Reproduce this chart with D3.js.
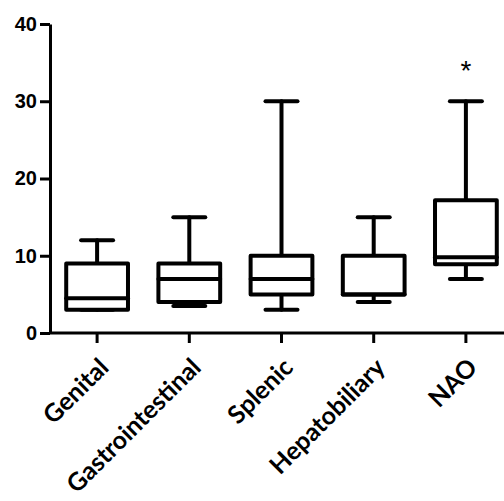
<!DOCTYPE html>
<html>
<head>
<meta charset="utf-8">
<script src="https://cdn.jsdelivr.net/npm/d3@7"></script>
<style>
  body { margin: 0; background: #fff; }
  svg { display: block; }
  .axis path, .axis line { stroke: #000; stroke-width: 3; }
  .axis text { font-family: "Liberation Sans", Arial, sans-serif; font-weight: bold; font-size: 20px; fill: #000; }
  .xaxis text { font-family: Lato, sans-serif; font-size: 25px; }
</style>
</head>
<body>
<svg id="chart" width="504" height="501"></svg>
<script>
// box plot values
const categories = ['Genital', 'Gastrointestinal', 'Splenic', 'Hepatobiliary', 'NAO'];
const mins    = [3,   3.5, 3,  4,  7];
const q1s     = [3,   4,   5,  5,  8.9];
const medians = [4.5, 7,   7,  5,  9.8];
const q3s     = [9,   9,   10, 10, 17.2];
const maxs    = [12,  15,  30, 15, 30];
const yTicks  = [0, 10, 20, 30, 40];
const starred = ['NAO'];

const boxes = categories.map((c, i) => ({
  name: c, min: mins[i], q1: q1s[i], med: medians[i], q3: q3s[i], max: maxs[i]
}));

const svg = d3.select("#chart");

const x = d3.scaleBand()
    .domain(categories)
    .range([51, 512])
    .paddingInner(0.33)
    .paddingOuter(0.165);

const y = d3.scaleLinear()
    .domain([0, 40])
    .range([333, 24]);

// y axis
svg.append("g")
    .attr("class", "axis")
    .attr("transform", "translate(50,0)")
    .call(d3.axisLeft(y).tickValues(yTicks).tickSize(10).tickSizeOuter(0).tickPadding(3));

// x axis
const xAxis = svg.append("g")
    .attr("class", "axis xaxis")
    .attr("transform", "translate(0,333)")
    .call(d3.axisBottom(x).tickSize(10).tickSizeOuter(0));

// rotated category labels
xAxis.selectAll("text")
    .attr("text-anchor", "end")
    .attr("dy", null)
    .attr("x", 0)
    .attr("y", 0)
    .attr("transform", "translate(13,36) rotate(-45)");

xAxis.select(".domain").attr("d", "M50,0H504");

const bw = x.bandwidth();
const capW = 32;
const g = svg.selectAll(".box")
    .data(boxes)
    .enter().append("g")
    .attr("class", "box")
    .attr("transform", d => `translate(${x(d.name) + bw / 2},0)`)
    .attr("stroke", "#000")
    .attr("stroke-width", 4)
    .attr("stroke-linecap", "round");

// whiskers
g.append("line")
    .attr("x1", 0).attr("x2", 0)
    .attr("y1", d => y(d.max)).attr("y2", d => y(d.q3));
g.append("line")
    .attr("x1", 0).attr("x2", 0)
    .attr("y1", d => y(d.min)).attr("y2", d => y(d.q1));
g.append("line")
    .attr("x1", -capW / 2).attr("x2", capW / 2)
    .attr("y1", d => y(d.max)).attr("y2", d => y(d.max));
g.append("line")
    .attr("x1", -capW / 2).attr("x2", capW / 2)
    .attr("y1", d => y(d.min)).attr("y2", d => y(d.min));

// box
g.append("rect")
    .attr("x", -bw / 2)
    .attr("width", bw)
    .attr("y", d => y(d.q3))
    .attr("height", d => y(d.q1) - y(d.q3))
    .attr("fill", "#fff")
    .attr("stroke-linejoin", "round");

// median
g.append("line")
    .attr("x1", -bw / 2).attr("x2", bw / 2)
    .attr("y1", d => y(d.med)).attr("y2", d => y(d.med));

// significance marker
svg.selectAll(".star")
    .data(boxes.filter(d => starred.includes(d.name)))
    .enter().append("text")
    .attr("class", "star")
    .attr("x", d => x(d.name) + bw / 2)
    .attr("y", d => y(d.max) - 21)
    .attr("text-anchor", "middle")
    .style("font-family", "Liberation Sans, Arial, sans-serif")
    .style("font-size", "28px")
    .text("*");
</script>
</body>
</html>
